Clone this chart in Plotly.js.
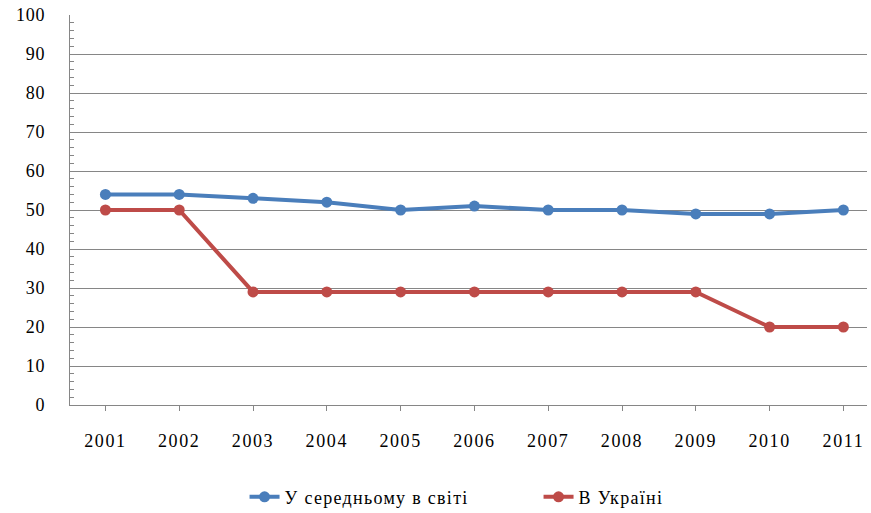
<!DOCTYPE html>
<html><head><meta charset="utf-8">
<script src="https://cdn.plot.ly/plotly-3.0.1.min.js"></script>
<style>body{margin:0;background:#fff}#c{width:871px;height:513px}
.xtick text{letter-spacing:1.6px}
.ytick text{letter-spacing:0.8px}
.legendtext{letter-spacing:1.3px}</style>
</head><body><div id="c"></div>
<script>
const years = ['2001','2002','2003','2004','2005','2006','2007','2008','2009','2010','2011'];
const worldAvg = [54, 54, 53, 52, 50, 51, 50, 50, 49, 49, 50];
const ukraine = [50, 50, 29, 29, 29, 29, 29, 29, 29, 20, 20];
const seriesNames = ['У середньому в світі', 'В Україні'];
const yTicks = [0,10,20,30,40,50,60,70,80,90,100];

const fam = 'Liberation Serif';
const traces = [
  {x: years, y: worldAvg, name: seriesNames[0], type: 'scatter', mode: 'lines+markers',
   line: {color: '#4A7EBB', width: 4}, marker: {color: '#4A7EBB', size: 11}},
  {x: years, y: ukraine, name: seriesNames[1], type: 'scatter', mode: 'lines+markers',
   line: {color: '#BE4B48', width: 4}, marker: {color: '#BE4B48', size: 11}}
];
const layout = {
  width: 871, height: 513,
  margin: {l: 70, r: 4, t: 15, b: 108, autoexpand: false},
  paper_bgcolor: '#fff', plot_bgcolor: '#fff',
  font: {family: fam, size: 18, color: '#000'},
  showlegend: true,
  legend: {orientation: 'h', x: 0.219, xanchor: 'left', yref: 'container', y: 0.031, yanchor: 'middle',
           font: {family: fam, size: 18, color: '#000'}, traceorder: 'normal', entrywidth: 249, entrywidthmode: 'pixels'},
  xaxis: {type: 'category', range: [-0.48, 10.32], showgrid: false, zeroline: false,
          showline: true, linecolor: '#868686', linewidth: 1,
          ticks: 'outside', ticklen: 5, tickcolor: '#868686',
          ticklabelstandoff: 14, tickfont: {family: fam, size: 18, color: '#000'}},
  yaxis: {range: [0, 100], tickvals: yTicks, showgrid: true, gridcolor: '#868686', gridwidth: 1,
          zeroline: false, showline: true, linecolor: '#868686', linewidth: 1,
          ticks: 'inside', ticklen: 5, tickcolor: '#868686',
          minor: {dtick: 2, ticks: 'inside', ticklen: 4, tickcolor: '#868686', showgrid: false},
          ticklabelstandoff: 20, tickfont: {family: fam, size: 18, color: '#000'}}
};
Plotly.newPlot('c', traces, layout, {displayModeBar: false, staticPlot: true});
</script></body></html>
